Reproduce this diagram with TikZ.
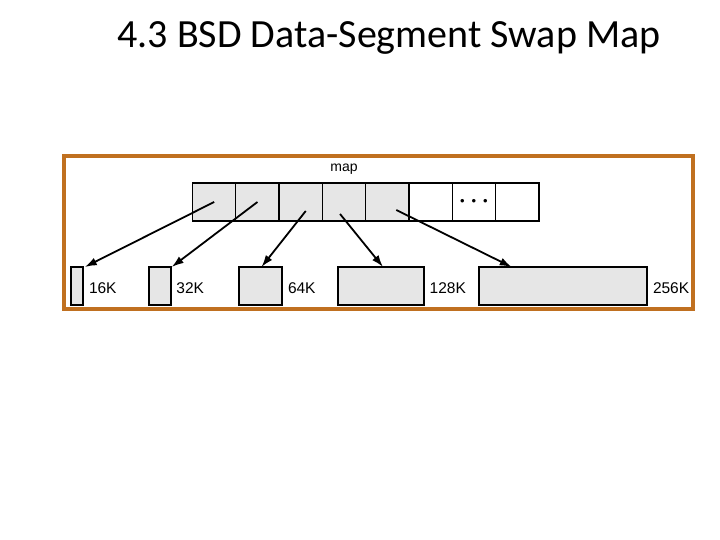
\documentclass[tikz,border=0pt]{standalone}
\usepackage{fontspec}
\setmainfont{Liberation Sans}
\newfontfamily\titlefont{Carlito}
\usetikzlibrary{positioning,arrows.meta}
\definecolor{framebrown}{RGB}{192,112,32}
\definecolor{cellgray}{RGB}{230,230,230}

\begin{document}
\begin{tikzpicture}[
  x=1pt, y=-1pt,
  cell/.style={draw, line width=1.3pt, minimum width=43.3pt, minimum height=38pt, inner sep=0pt, outer sep=0pt},
  used/.style={cell, fill=cellgray},
  seg/.style={draw, line width=2pt, fill=cellgray, minimum height=38pt, inner sep=0pt, outer sep=0pt, anchor=north west},
  size/.style={font=\fontsize{15.5}{18}\selectfont, inner sep=0pt, right=5.5pt of #1, yshift=-2pt},
  ptr/.style={-{Latex[length=12pt,width=8pt]}, line width=1.8pt}
]
\useasboundingbox (0,0) rectangle (720,540);
\node[font=\titlefont\fontsize{40}{48}\selectfont, anchor=base] (title) at (389,48) {4.3 BSD Data-Segment Swap Map};
\draw[framebrown, line width=3.5pt] (64,156) rectangle (693,309);

% the swap map
\node[used] (m1) at (214.15,202) {};
\node[used, right=0pt of m1] (m2) {};
\node[used, right=0pt of m2] (m3) {};
\node[used, right=0pt of m3] (m4) {};
\node[used, right=0pt of m4] (m5) {};
\node[cell, right=0pt of m5] (m6) {};
\node[cell, right=0pt of m6, font=\fontsize{13}{15}\selectfont] (m7) {•\hspace{7pt}•\hspace{7pt}•};
\node[cell, right=0pt of m7] (m8) {};
\node[font=\fontsize{14}{16}\selectfont, inner sep=0pt, anchor=base] (maplabel) at ([yshift=11.5pt]m4.north) {map};

% swap segments
\node[seg, minimum width=12.3pt] (s16) at (71,267) {};
\node[seg, minimum width=21.4pt] (s32) at (149.3,267) {};
\node[seg, minimum width=43.6pt] (s64) at (238.7,267) {};
\node[seg, minimum width=86pt] (s128) at (338,267) {};
\node[seg, minimum width=168.6pt] (s256) at (478.7,267) {};
\node[size=s16] (l16) {16K};
\node[size=s32] (l32) {32K};
\node[size=s64] (l64) {64K};
\node[size=s128] (l128) {128K};
\node[size=s256] (l256) {256K};

\draw[ptr] (m1.center) -- ([xshift=1.5pt]s16.north east);
\draw[ptr] (m2.center) -- ([xshift=1pt]s32.north east);
\draw[ptr] ([shift={(5,9)}]m3.center) -- ([xshift=1pt]s64.north);
\draw[ptr] ([shift={(-4,12)}]m4.center) -- ([xshift=2pt]s128.north);
\draw[ptr] ([shift={(9,8)}]m5.center) -- ([xshift=33pt]s256.north west);
\end{tikzpicture}
\end{document}
